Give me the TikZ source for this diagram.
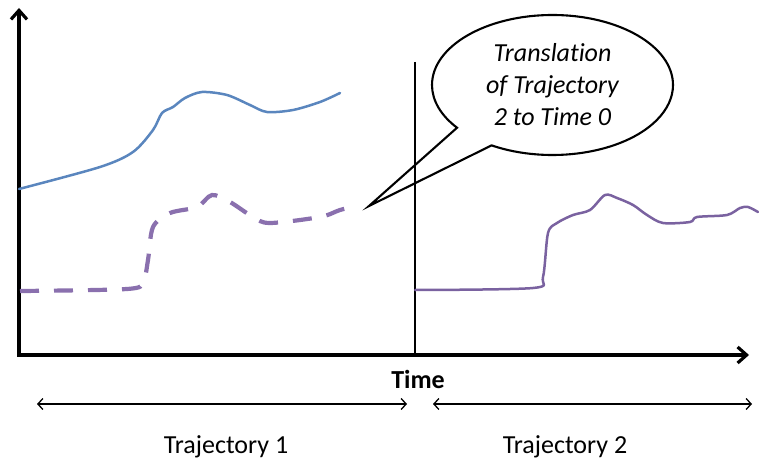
\documentclass[tikz,border=0pt]{standalone}
\usepackage{fontspec}
\setmainfont{Carlito}[Ligatures=NoCommon]
\usetikzlibrary{arrows.meta,shapes.callouts}

\definecolor{trajblue}{HTML}{5A86BE}
\definecolor{trajpurple}{HTML}{7A62A0}
\definecolor{shiftpurple}{HTML}{8A70AE}

\tikzset{
  axisline/.style={line width=3.2pt, -{Straight Barb[length=9pt,width=16pt]}},
  splitline/.style={line width=2.6pt},
  spanarrow/.style={line width=1.3pt, {Straight Barb[length=5pt,width=11pt]}-{Straight Barb[length=5pt,width=11pt]}},
  labeltext/.style={font=\fontsize{26}{32}\selectfont, anchor=base, inner sep=0pt},
  curveblue/.style={draw=trajblue, line width=2.5pt, line join=round, line cap=round},
  curvepurple/.style={draw=trajpurple, line width=2.5pt, line join=round, line cap=round},
  curveshift/.style={draw=shiftpurple, line width=4.2pt, dash pattern=on 19pt off 15pt},
  bubble/.style={ellipse callout, draw, line width=2.1pt, inner sep=0pt,
    minimum width=241pt, minimum height=140pt, callout pointer arc=22,
    align=center, font=\fontsize{26}{32}\selectfont\itshape}
}

\begin{document}
\begin{tikzpicture}[x=1pt,y=1pt]
  \useasboundingbox (0,0) rectangle (759,-462);

  % axes
  \coordinate (O) at (19,-355);
  \coordinate (ytop) at (19,-8);
  \coordinate (xend) at (749,-355);
  \coordinate (split) at (415,-62);
  \coordinate (splitbase) at (415,-355);
  \draw[axisline] (O) -- (ytop);
  \draw[axisline] ([xshift=-1.6pt]O) -- (xend);
  \draw[splitline] (split) -- (splitbase);

  % trajectory 1
  \draw[curveblue] plot[smooth, tension=0.5] coordinates {
    (19,-189) (100,-167) (133,-152) (153,-130) (162,-113) (173,-107)
    (185,-98) (202,-92) (227,-95) (250,-105) (267,-112) (293,-110)
    (320,-102) (340,-93)};

  % trajectory 2 shifted back to time 0
  \draw[curveshift] plot[smooth, tension=0.5] coordinates {
    (20,-291) (127,-289) (143,-282) (148,-260) (153,-227) (170,-213)
    (197,-207) (212,-195) (230,-202) (253,-217) (270,-223) (320,-217)
    (340,-210) (357,-206)};

  % trajectory 2
  \draw[curvepurple] plot[smooth, tension=0.5] coordinates {
    (415,-290) (533,-288) (543,-277) (548,-233) (557,-223) (573,-215)
    (590,-210) (605,-195) (617,-198) (633,-205) (647,-215) (663,-223)
    (690,-222) (697,-217) (727,-215) (740,-208) (748,-207) (758,-212)};

  % callout
  \coordinate (tip) at (369,-206);
  \node[bubble, callout absolute pointer={(tip)}] (note) at (552.5,-85)
    {Translation\\of Trajectory\\2 to Time 0};

  % time axis label and spans
  \node[labeltext, font=\fontsize{26}{32}\selectfont\bfseries] (time) at (418,-388) {Time};
  \coordinate (s1a) at (37,-404);
  \coordinate (s1b) at (407,-404);
  \coordinate (s2a) at (433,-404);
  \coordinate (s2b) at (752,-404);
  \draw[spanarrow] (s1a) -- (s1b);
  \draw[spanarrow] (s2a) -- (s2b);
  \node[labeltext] (t1) at (226,-453) {Trajectory 1};
  \node[labeltext] (t2) at (565,-453) {Trajectory 2};
\end{tikzpicture}
\end{document}
